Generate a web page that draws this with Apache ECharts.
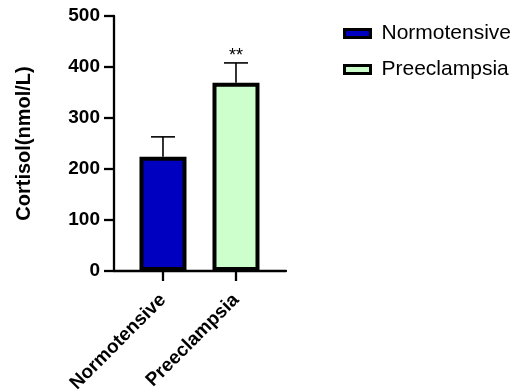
<!DOCTYPE html>
<html><head><meta charset="utf-8">
<script src="https://cdn.jsdelivr.net/npm/echarts@6/dist/echarts.min.js"></script>
<style>html,body{margin:0;padding:0;background:#fff}#c{width:514px;height:392px}</style>
</head><body><div id="c"></div>
<script>
const categories = ['Normotensive', 'Preeclampsia'];
const means = [224, 369];
const errors = [39, 39];
const significance = ['', '**'];
const colors = ['#0000C0', '#CCFFCC'];
const yTicks = [0, 100, 200, 300, 400, 500];

const chart = echarts.init(document.getElementById('c'));
const FONT = '"Liberation Sans", Arial, sans-serif';

const barSeries = categories.map((name, i) => ({
  name: name,
  type: 'bar',
  barWidth: 47,
  barMaxWidth: 80,
  barGap: '-100%',
  data: [[i, means[i]]],
  itemStyle: { color: colors[i], borderColor: '#000', borderWidth: 4 },
  z: 3
}));

const errData = categories.map((c, i) => [i, means[i], means[i] + errors[i], significance[i]]);

chart.setOption({
  animation: false,
  grid: { left: 114, right: 228, top: 16, bottom: 121, outerBoundsMode: 'none', containLabel: false },
  legend: {
    left: 343, top: 23, padding: 0, orient: 'vertical', itemGap: 15,
    itemWidth: 26, itemHeight: 8, icon: 'rect',
    itemStyle: { borderColor: '#000', borderWidth: 3 },
    textStyle: { fontFamily: FONT, fontSize: 21, color: '#000', padding: [0, 0, 0, 6] },
    data: categories
  },
  xAxis: {
    type: 'value', min: -0.671, max: 1.685,
    splitLine: { show: false },
    axisLine: { show: true, onZero: false, lineStyle: { color: '#000', width: 2.3 } },
    axisTick: { show: true, customValues: [0, 1], length: 10, lineStyle: { color: '#000', width: 2.3 } },
    axisLabel: {
      customValues: [0, 1], rotate: 45, margin: 26,
      formatter: v => categories[Math.round(v)],
      fontFamily: FONT, fontSize: 19, fontWeight: 'bold', color: '#000'
    }
  },
  yAxis: {
    type: 'value', min: 0, max: 500, interval: 100,
    name: 'Cortisol(nmol/L)', nameLocation: 'middle', nameGap: 80,
    nameTextStyle: { fontFamily: FONT, fontSize: 20, fontWeight: 'bold', color: '#000' },
    splitLine: { show: false },
    axisLine: { show: true, onZero: false, lineStyle: { color: '#000', width: 2.3 } },
    axisTick: { show: true, length: 10, lineStyle: { color: '#000', width: 2.3 } },
    axisLabel: {
      margin: 14, fontFamily: FONT, fontSize: 19, fontWeight: 'bold', color: '#000',
      formatter: v => yTicks.includes(v) ? String(v) : ''
    }
  },
  series: [
    {
      type: 'custom',
      z: 2,
      data: errData,
      renderItem: (params, api) => {
        const x = api.value(0);
        const lo = api.coord([x, api.value(1)]);
        const hi = api.coord([x, api.value(2)]);
        const cap = 12;
        const children = [
          { type: 'line', shape: { x1: lo[0], y1: lo[1], x2: hi[0], y2: hi[1] }, style: { stroke: '#000', lineWidth: 1.6 } },
          { type: 'line', shape: { x1: hi[0] - cap, y1: hi[1], x2: hi[0] + cap, y2: hi[1] }, style: { stroke: '#000', lineWidth: 1.6 } }
        ];
        const s = api.value(3);
        if (s) {
          children.push({ type: 'text', style: { text: s, x: hi[0], y: hi[1] - 7, align: 'center', verticalAlign: 'middle', fontSize: 18, fontFamily: FONT, fill: '#000' } });
        }
        return { type: 'group', children };
      }
    },
    ...barSeries
  ]
});
</script></body></html>
